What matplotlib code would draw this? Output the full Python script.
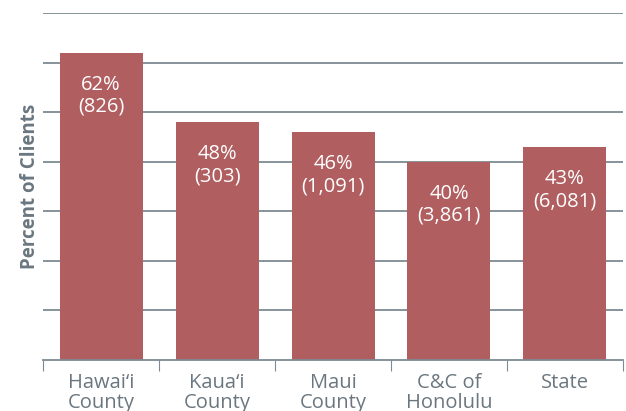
import matplotlib
matplotlib.use("Agg")
import matplotlib.pyplot as plt
import numpy as np

# data
categories = ["Hawai\u2018i\nCounty", "Kaua\u2018i\nCounty", "Maui\nCounty", "C&C of\nHonolulu", "State"]
percents = [62, 48, 46, 40, 43]
counts = ["826", "303", "1,091", "3,861", "6,081"]

bar_color = "#b05e60"
grid_color = "#7d8a93"
text_gray = "#6b7780"

plt.rcParams['font.family'] = ['Open Sans', 'DejaVu Sans']

fig = plt.figure(figsize=(6.26, 4.11), dpi=100)
ax = fig.add_axes([0.069, 0.124, 0.926, 0.844])

x = np.arange(len(categories))
ax.bar(x, percents, width=0.716, color=bar_color, zorder=2)

for xi, p, c in zip(x, percents, counts):
    ax.text(xi, p - 4.4, f"{p}%\n({c})", ha='center', va='top', color='white',
            fontsize=14.5, linespacing=1.15, zorder=3)

ax.set_xlim(-0.5, len(categories) - 0.5)
ax.set_ylim(0, 70)
ax.set_yticks(np.arange(10, 71, 10))
ax.yaxis.grid(True, color=grid_color, linewidth=1.3, zorder=1)
ax.tick_params(axis='y', length=0, labelleft=False)

# boundary ticks, labels at centres
ax.set_xticks(np.arange(-0.5, len(categories), 1.0))
ax.set_xticks(x, minor=True)
ax.set_xticklabels(categories, minor=True)
ax.tick_params(axis='x', which='major', length=8, color=grid_color, labelbottom=False)
ax.tick_params(axis='x', which='minor', length=0, pad=9, labelsize=14.5, labelcolor=text_gray)
for lab in ax.get_xticklabels(minor=True):
    lab.set_linespacing(1.05)

for s in ['top', 'right', 'left']:
    ax.spines[s].set_visible(False)
ax.spines['bottom'].set_color(grid_color)
ax.spines['bottom'].set_linewidth(1.3)

ax.set_ylabel("Percent of Clients", fontsize=13.5, fontweight='bold', color=text_gray, labelpad=2)

fig.savefig("out.png", dpi=100)
